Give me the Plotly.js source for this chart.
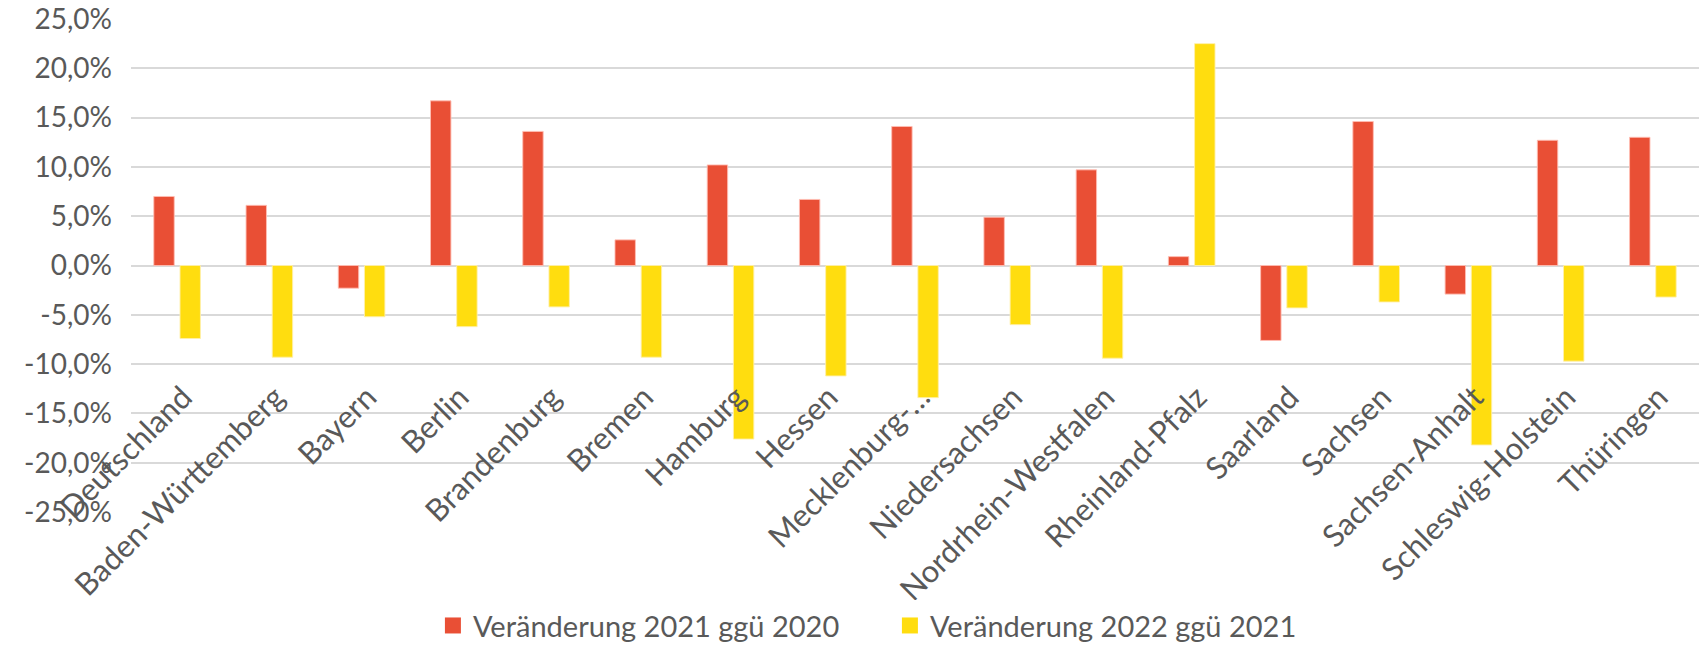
<!DOCTYPE html>
<html>
<head>
<meta charset="utf-8">
<script src="https://cdn.plot.ly/plotly-3.0.1.min.js"></script>
<style>html,body{margin:0;padding:0;background:#fff;}#chart{width:1701px;height:653px;}</style>
</head>
<body>
<div id="chart"></div>
<script>
const categories = ['Deutschland','Baden-Württemberg','Bayern','Berlin','Brandenburg','Bremen','Hamburg','Hessen','Mecklenburg-…','Niedersachsen','Nordrhein-Westfalen','Rheinland-Pfalz','Saarland','Sachsen','Sachsen-Anhalt','Schleswig-Holstein','Thüringen'];
const change2021 = [7.0, 6.1, -2.3, 16.7, 13.6, 2.6, 10.2, 6.7, 14.1, 4.9, 9.7, 0.9, -7.6, 14.6, -2.9, 12.7, 13.0];
const change2022 = [-7.4, -9.3, -5.2, -6.2, -4.2, -9.3, -17.6, -11.2, -13.4, -6.0, -9.4, 22.5, -4.3, -3.7, -18.2, -9.7, -3.2];
const seriesNames = ['Veränderung 2021 ggü 2020', 'Veränderung 2022 ggü 2021'];
const yTickVals = [25, 20, 15, 10, 5, 0, -5, -10, -15, -20, -25];
const yTickText = ['25,0%','20,0%','15,0%','10,0%','5,0%','0,0%','-5,0%','-10,0%','-15,0%','-20,0%','-25,0%'];

const RED = '#E94F35';
const YELLOW = '#FFDD0F';
const TXT = '#595959';
const FONT = 'Lato, "Open Sans", sans-serif';

const traces = [
  {type:'bar', x:categories, y:change2021, name:seriesNames[0], showlegend:false,
   marker:{color:RED, line:{color:'rgba(255,190,180,0.9)', width:1}}, hoverinfo:'x+y'},
  {type:'bar', x:categories, y:change2022, name:seriesNames[1], showlegend:false,
   marker:{color:YELLOW, line:{color:'rgba(255,240,170,0.9)', width:1}}, hoverinfo:'x+y'},
  {type:'scatter', mode:'markers', x:[null], y:[null], name:seriesNames[0],
   marker:{symbol:'square', size:16, color:RED}, hoverinfo:'skip'},
  {type:'scatter', mode:'markers', x:[null], y:[null], name:seriesNames[1],
   marker:{symbol:'square', size:16, color:YELLOW}, hoverinfo:'skip'}
];

const layout = {
  width:1701, height:653,
  margin:{l:131, r:2, t:18, b:132, pad:0},
  paper_bgcolor:'#fff', plot_bgcolor:'#fff',
  font:{family:FONT, color:TXT, size:30},
  barmode:'group', bargap:0.432, bargroupgap:0.22,
  showlegend:true,
  legend:{orientation:'h', x:0.484, xanchor:'center', y:-0.176, yanchor:'top',
          font:{size:29, color:TXT}, entrywidth:412, itemclick:false},
  xaxis:{type:'category', anchor:'free', position:0.285, tickangle:-45,
         showgrid:false, showline:false, zeroline:false, ticks:'',
         ticklabelshift:6, ticklabeloverflow:'allow',
         tickfont:{size:31, color:TXT}, automargin:false, fixedrange:true},
  yaxis:{range:[-25.1, 25.1], tickvals:yTickVals, ticktext:yTickText,
         showgrid:true, gridcolor:'#d9d9d9', gridwidth:2,
         zeroline:true, zerolinecolor:'#d9d9d9', zerolinewidth:2,
         showline:false, ticks:'', ticklabelstandoff:18, ticklabeloverflow:'allow',
         tickfont:{size:28, color:TXT}, automargin:false, fixedrange:true}
};

Plotly.newPlot('chart', traces, layout, {displayModeBar:false, staticPlot:true});
</script>
</body>
</html>
